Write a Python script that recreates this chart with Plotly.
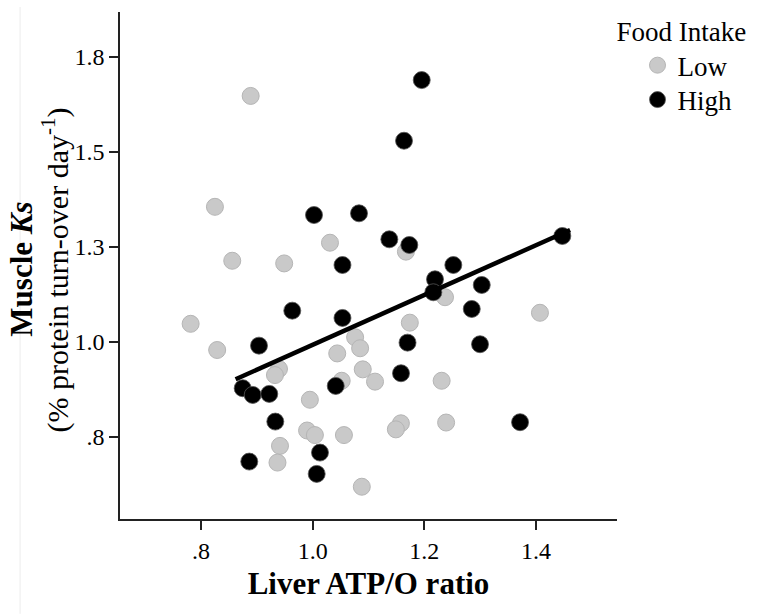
import plotly.graph_objects as go

# Low food intake group
low_x = [0.889, 0.825, 0.856, 0.7815, 0.829, 0.9397, 0.9325, 0.995, 0.990, 1.004,
         0.9415, 0.937, 1.056, 1.088, 1.044, 1.076, 1.085, 1.0897, 1.1117, 1.052,
         1.031, 1.167, 1.237, 1.174, 1.407, 1.231, 1.158, 1.149, 1.239, 0.949]
low_y = [1.647, 1.355, 1.213, 1.047, 0.978, 0.928, 0.912, 0.847, 0.766, 0.754,
         0.7255, 0.6816, 0.754, 0.618, 0.969, 1.0116, 0.9826, 0.927, 0.8947, 0.897,
         1.2605, 1.237, 1.117, 1.050, 1.076, 0.897, 0.785, 0.769, 0.787, 1.206]

# High food intake group
high_x = [1.1953, 1.1636, 1.0024, 1.083, 1.1373, 1.1731, 1.0534, 1.2519, 1.2191, 1.2161,
          1.3028, 1.2849, 0.9635, 1.0534, 1.1699, 1.2997, 0.9039, 0.8747, 0.8926, 0.9223,
          1.0413, 1.1582, 0.9331, 1.0131, 0.8865, 1.0072, 1.3714, 1.4471]
high_y = [1.6887, 1.529, 1.3334, 1.3379, 1.2695, 1.2545, 1.2018, 1.2018, 1.1642, 1.130,
          1.1492, 1.086, 1.0816, 1.0624, 0.9974, 0.9932, 0.9895, 0.8774, 0.8597, 0.8624,
          0.8834, 0.9168, 0.7895, 0.7079, 0.6842, 0.6518, 0.7879, 1.2782]

# Fit line endpoints
fit_x = [0.862, 1.461]
fit_y = [0.901, 1.294]

x_ticks = [0.8, 1.0, 1.2, 1.4]
x_tick_labels = [".8", "1.0", "1.2", "1.4"]
y_ticks = [0.75, 1.0, 1.25, 1.5, 1.75]
y_tick_labels = [".8", "1.0", "1.3", "1.5", "1.8"]

FONT = "Liberation Serif"

fig = go.Figure()
fig.add_trace(go.Scatter(
    x=low_x, y=low_y, mode="markers", name="Low", legend="legend",
    marker=dict(size=17, color="#c9c9c9", line=dict(color="#b5b5b5", width=1)),
))
fig.add_trace(go.Scatter(
    x=high_x, y=high_y, mode="markers", name="High", legend="legend2",
    marker=dict(size=17, color="#000000", line=dict(color="#555555", width=0.8)),
))
fig.add_trace(go.Scatter(
    x=fit_x, y=fit_y, mode="lines", showlegend=False,
    line=dict(color="#000000", width=4.5),
))

fig.update_layout(
    width=773, height=614,
    margin=dict(l=120, r=156, t=12, b=95, autoexpand=False),
    paper_bgcolor="white", plot_bgcolor="white",
    font=dict(family=FONT, color="#000000", size=24),
    legend=dict(
        title=dict(text="Food Intake", font=dict(family=FONT, size=27)),
        font=dict(family=FONT, size=27),
        x=0.995, xanchor="left", y=1.0118, yanchor="top",
        itemsizing="trace", indentation=23,
        bgcolor="rgba(0,0,0,0)",
    ),
    legend2=dict(
        font=dict(family=FONT, size=27),
        x=0.995, xanchor="left", y=0.8264, yanchor="middle",
        itemsizing="trace", indentation=23,
        bgcolor="rgba(0,0,0,0)",
    ),
    shapes=[dict(type="line", xref="paper", yref="paper",
                 x0=-0.201, x1=-0.201, y0=-0.187, y1=1.0099,
                 line=dict(color="#ececec", width=1))],
    annotations=[
        dict(text="<b>Muscle <i>Ks</i></b>", textangle=-90, showarrow=False,
             xref="paper", yref="paper", x=-0.199, y=0.492,
             xanchor="center", yanchor="middle",
             font=dict(family=FONT, size=31)),
        dict(text="(% protein turn-over day<sup>-1</sup>)", textangle=-90, showarrow=False,
             xref="paper", yref="paper", x=-0.129, y=0.492,
             xanchor="center", yanchor="middle",
             font=dict(family=FONT, size=30)),
    ],
)
fig.update_xaxes(
    range=[0.655, 1.545], tickvals=x_ticks, ticktext=x_tick_labels,
    showgrid=False, zeroline=False, showline=True, linecolor="#222222", linewidth=1.5,
    ticks="outside", ticklen=9, tickwidth=1.5, tickcolor="#222222",
    tickfont=dict(family=FONT, size=24), automargin=False,
    title=dict(text="<b>Liver ATP/O ratio</b>", font=dict(family=FONT, size=31), standoff=10),
)
fig.update_yaxes(
    range=[0.533, 1.868], tickvals=y_ticks, ticktext=y_tick_labels,
    showgrid=False, zeroline=False, showline=True, linecolor="#222222", linewidth=1.5,
    ticks="outside", ticklen=9, tickwidth=1.5, tickcolor="#222222",
    tickfont=dict(family=FONT, size=24), automargin=False,
)

fig.write_html("out.html", config={"displayModeBar": False},
               post_script="document.body.style.margin='0';")
